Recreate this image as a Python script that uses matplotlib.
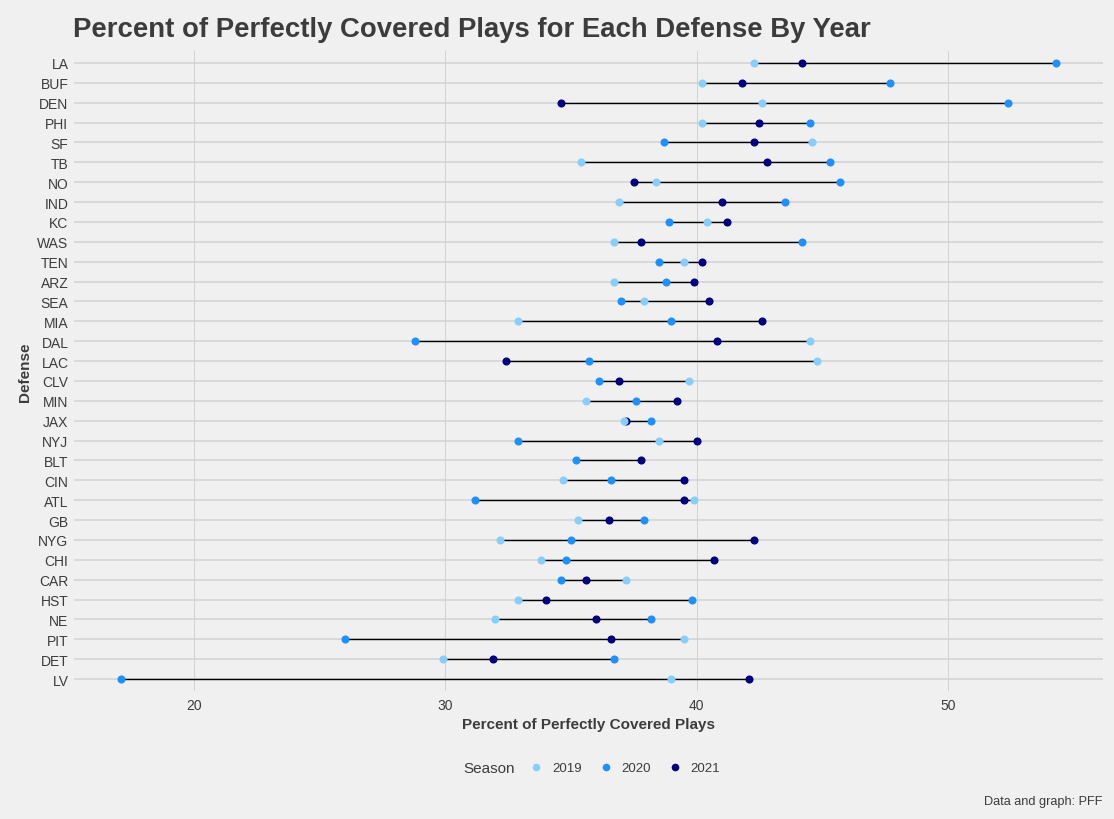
import matplotlib
matplotlib.use("Agg")
import matplotlib.pyplot as plt
import numpy as np
from matplotlib.lines import Line2D

teams = ["LA", "BUF", "DEN", "PHI", "SF", "TB", "NO", "IND", "KC", "WAS", "TEN", "ARZ",
         "SEA", "MIA", "DAL", "LAC", "CLV", "MIN", "JAX", "NYJ", "BLT", "CIN", "ATL", "GB",
         "NYG", "CHI", "CAR", "HST", "NE", "PIT", "DET", "LV"]

pct_2019 = [42.3, 40.2, 42.6, 40.2, 44.6, 35.4, 38.4, 36.9, 40.4, 36.7, 39.5, 36.7,
            37.9, 32.9, 44.5, 44.8, 39.7, 35.6, 37.1, 38.5, np.nan, 34.7, 39.9, 35.3,
            32.2, 33.8, 37.2, 32.9, 32.0, 39.5, 29.9, 39.0]
pct_2020 = [54.3, 47.7, 52.4, 44.5, 38.7, 45.3, 45.7, 43.5, 38.9, 44.2, 38.5, 38.8,
            37.0, 39.0, 28.8, 35.7, 36.1, 37.6, 38.2, 32.9, 35.2, 36.6, 31.2, 37.9,
            35.0, 34.8, 34.6, 39.8, 38.2, 26.0, 36.7, 17.1]
pct_2021 = [44.2, 41.8, 34.6, 42.5, 42.3, 42.8, 37.5, 41.0, 41.2, 37.8, 40.2, 39.9,
            40.5, 42.6, 40.8, 32.4, 36.9, 39.2, 37.2, 40.0, 37.8, 39.5, 39.5, 36.5,
            42.3, 40.7, 35.6, 34.0, 36.0, 36.6, 31.9, 42.1]

seasons = ["2019", "2020", "2021"]
colors = {"2019": "#87CEFA", "2020": "#1E90FF", "2021": "#000080"}
values = {"2019": pct_2019, "2020": pct_2020, "2021": pct_2021}

bg = "#F0F0F0"
txt = "#3C3C3C"
grid = "#D2D2D2"

plt.rcParams['font.family'] = ['Liberation Sans', 'DejaVu Sans']

fig = plt.figure(figsize=(11.14, 8.2), dpi=100, facecolor=bg)
ax = fig.add_axes([74/1114, 1-692/820, (1103-74)/1114, (692-52)/820])
ax.set_facecolor(bg)

y = np.arange(len(teams))
arr = np.array([pct_2019, pct_2020, pct_2021], dtype=float)
lo = np.nanmin(arr, axis=0)
hi = np.nanmax(arr, axis=0)
ax.hlines(y, lo, hi, color="black", lw=1.0, zorder=2)

for s in ["2021", "2020", "2019"]:
    ax.scatter(values[s], y, s=34, color=colors[s], zorder=3, linewidths=0)

ax.set_ylim(len(teams) - 1 + 0.6, -0.6)
xmin = np.nanmin(arr); xmax = np.nanmax(arr)
pad = (xmax - xmin) * 0.05
ax.set_xlim(xmin - pad, xmax + pad)
ax.set_yticks(y)
ax.set_yticklabels(teams)
ax.set_xticks([20, 30, 40, 50])
ax.tick_params(axis="both", length=0, colors=txt, labelsize=10)
ax.tick_params(axis="x", pad=5)
ax.tick_params(axis="y", pad=4)
for sp in ax.spines.values():
    sp.set_visible(False)
ax.grid(axis="y", color=grid, lw=1.1, zorder=0)
ax.grid(axis="x", color=grid, lw=0.7, zorder=0)
ax.set_axisbelow(True)

ax.set_xlabel("Percent of Perfectly Covered Plays", fontsize=11, fontweight="bold", color=txt, labelpad=4)
ax.set_ylabel("Defense", fontsize=11, fontweight="bold", color=txt, labelpad=4)

fig.text(73/1114, 1-30/820, "Percent of Perfectly Covered Plays for Each Defense By Year",
         fontsize=19.8, fontweight="bold", color=txt, ha="left", va="center")

handles = [Line2D([], [], marker="o", ls="", color=colors[s], markersize=5.5, markeredgewidth=0) for s in seasons]
fig.text(489/1114, 1-769/820, "Season", fontsize=11, color=txt, ha="center", va="center")
leg = fig.legend(handles, seasons, loc="center", bbox_to_anchor=(625/1114, 1-769/820), ncol=3,
                 frameon=False, fontsize=9.5, handletextpad=0.7, columnspacing=1.3,
                 handlelength=1.0, labelcolor=txt)

fig.text(1103/1114, 1-802/820, "Data and graph: PFF", fontsize=9.2, color=txt, ha="right", va="center")

fig.savefig("out.png", dpi=100, facecolor=bg)
